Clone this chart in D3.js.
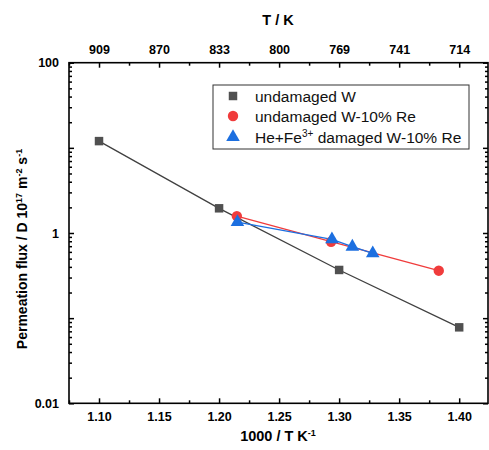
<!DOCTYPE html>
<html><head><meta charset="utf-8">
<script src="https://cdn.jsdelivr.net/npm/d3@7"></script>
<style>body{margin:0;background:#fff}svg{display:block}</style>
</head><body><svg id="c" width="489" height="450"></svg>
<script>
const xTicks = [1.10, 1.15, 1.20, 1.25, 1.30, 1.35, 1.40];
const topTickLabels = ["909", "870", "833", "800", "769", "741", "714"];
const yTicks = [0.01, 1, 100];
const seriesNames = ["undamaged W", "undamaged W-10% Re", "He+Fe\u00B3\u207A damaged W-10% Re"];
const wX = [1.10, 1.20, 1.30, 1.40];
const wY = [12.0, 1.95, 0.368, 0.078];
const reX = [1.2148, 1.2933, 1.383];
const reY = [1.58, 0.79, 0.361];
const dmX = [1.2153, 1.294, 1.311, 1.328];
const dmY = [1.34, 0.843, 0.69, 0.578];

const svg = d3.select("#c");
const L = 69, R = 488, T = 62.7, B = 403.3;
const x = d3.scaleLinear().domain([1.075, 1.424]).range([L, R]);
const y = d3.scaleLog().domain([0.01, 100]).range([B, T]);
const font = "'Liberation Sans', Arial, sans-serif";

// frame
svg.append("rect").attr("x", L).attr("y", T).attr("width", R - L).attr("height", B - T)
  .attr("fill", "none").attr("stroke", "#000").attr("stroke-width", 1.6);

// x ticks (bottom & top), inward
const minorX = d3.range(1.075, 1.424, 0.025).filter(v => !xTicks.some(t => Math.abs(t - v) < 1e-6));
const bottomAxis = d3.axisBottom(x).tickValues(xTicks).tickSize(-5).tickPadding(9).tickFormat(d3.format(".2f"));
svg.append("g").attr("transform", `translate(0,${B})`).call(bottomAxis);
const topAxis = d3.axisTop(x).tickValues(xTicks).tickSize(-5).tickPadding(9).tickFormat((d, i) => topTickLabels[i]);
svg.append("g").attr("transform", `translate(0,${T})`).call(topAxis);
svg.append("g").attr("transform", `translate(0,${B})`).call(d3.axisBottom(x).tickValues(minorX).tickSize(-3).tickFormat(""));
svg.append("g").attr("transform", `translate(0,${T})`).call(d3.axisTop(x).tickValues(minorX).tickSize(-3).tickFormat(""));

// y ticks
const majY = [0.01, 0.1, 1, 10, 100];
const minY = [];
for (let e = -2; e < 2; e++) for (let m = 2; m <= 9; m++) minY.push(m * Math.pow(10, e));
svg.append("g").attr("transform", `translate(${L},0)`)
  .call(d3.axisLeft(y).tickValues(majY).tickSize(-5).tickPadding(10)
    .tickFormat(d => yTicks.includes(d) ? (d === 0.01 ? "0.01" : String(d)) : ""));
svg.append("g").attr("transform", `translate(${L},0)`).call(d3.axisLeft(y).tickValues(minY).tickSize(-3).tickFormat(""));
svg.append("g").attr("transform", `translate(${R},0)`).call(d3.axisRight(y).tickValues(majY).tickSize(-5).tickFormat(""));
svg.append("g").attr("transform", `translate(${R},0)`).call(d3.axisRight(y).tickValues(minY).tickSize(-3).tickFormat(""));

svg.selectAll(".domain").remove();
svg.selectAll(".tick line").attr("stroke", "#000").attr("stroke-width", 1.5);
svg.selectAll(".tick text").attr("font-family", font).attr("font-size", 12.5).attr("font-weight", "bold").attr("fill", "#000");

// titles
svg.append("text").attr("x", 278).attr("y", 441).attr("text-anchor", "middle")
  .attr("font-family", font).attr("font-size", 14.5).attr("font-weight", "bold")
  .html('1000 / T K<tspan dy="-5" font-size="9">-1</tspan>');
svg.append("text").attr("x", 278).attr("y", 25).attr("text-anchor", "middle")
  .attr("font-family", font).attr("font-size", 14.5).attr("font-weight", "bold").text("T / K");
svg.append("text").attr("transform", "translate(27,249) rotate(-90)").attr("text-anchor", "middle")
  .attr("font-family", font).attr("font-size", 14).attr("font-weight", "bold")
  .html('Permeation flux / D 10<tspan dy="-5" font-size="9">17</tspan><tspan dy="5"> m</tspan><tspan dy="-5" font-size="9">-2</tspan><tspan dy="5"> s</tspan><tspan dy="-5" font-size="9">-1</tspan>');

// series
const cols = ["#505050", "#f03c3c", "#1c6fe0"];
const lineCols = ["#404040", "#f03c3c", "#1c6fe0"];
const sets = [[wX, wY], [reX, reY], [dmX, dmY]];
const line = d3.line().x(d => x(d[0])).y(d => y(d[1]));
sets.forEach(([xs, ys], i) => {
  const pts = xs.map((v, j) => [v, ys[j]]);
  svg.append("path").attr("d", line(pts)).attr("fill", "none").attr("stroke", lineCols[i]).attr("stroke-width", 1.3);
});
const sym = [d3.symbolSquare, d3.symbolCircle, d3.symbolTriangle];
const sz = [72, 85, 80];
sets.forEach(([xs, ys], i) => {
  xs.forEach((v, j) => {
    svg.append("path").attr("d", d3.symbol(sym[i], sz[i])())
      .attr("transform", `translate(${x(v)},${y(ys[j])})`).attr("fill", cols[i]);
  });
});

// legend
svg.append("rect").attr("x", 213).attr("y", 85).attr("width", 256).attr("height", 64)
  .attr("fill", "#fff").attr("stroke", "#333").attr("stroke-width", 1);
const ly = [96, 116, 137];
seriesNames.forEach((n, i) => {
  svg.append("path").attr("d", d3.symbol(sym[i], sz[i])()).attr("transform", `translate(233,${ly[i]})`).attr("fill", cols[i]);
  const t = svg.append("text").attr("x", 255).attr("y", ly[i] + 5.5).attr("font-family", font).attr("font-size", 15.5).attr("fill", "#111");
  if (i === 2) t.html('He+Fe<tspan dy="-6" font-size="10">3+</tspan><tspan dy="6"> damaged W-10% Re</tspan>');
  else t.text(n);
});
</script></body></html>
